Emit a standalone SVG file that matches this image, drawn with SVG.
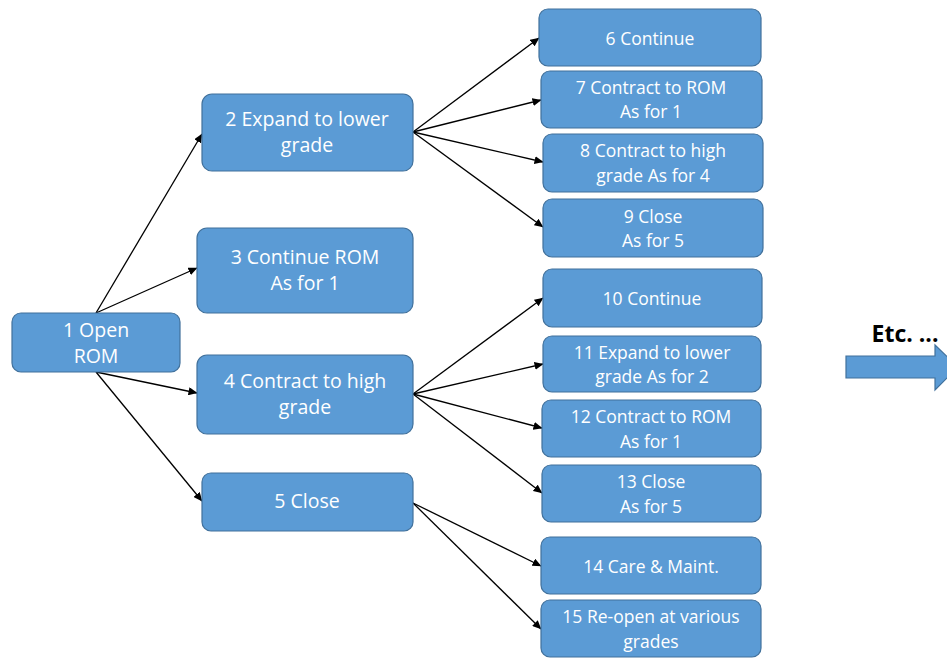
<svg xmlns="http://www.w3.org/2000/svg" width="947" height="659" viewBox="0 0 947 659">
<defs>
<marker id="ah" markerWidth="9" markerHeight="8" refX="8.5" refY="4" orient="auto" markerUnits="userSpaceOnUse">
<path d="M0,0 L9,4 L0,8 Z" fill="#000"/>
</marker>
<style>
.box{fill:#5B9BD5;stroke:#41719C;stroke-width:1.2}
.t{font-family:"Open Sans","Liberation Sans",sans-serif;fill:#fff;text-anchor:middle}
.l{font-size:19.5px}
.r{font-size:17.5px}
.c{stroke:#000;stroke-width:1.3;fill:none;marker-end:url(#ah)}
</style>
</defs>
<rect width="947" height="659" fill="#fff"/>
<g id="connectors">
<line class="c" x1="96" y1="313" x2="202" y2="134"/>
<line class="c" x1="96" y1="313" x2="197" y2="268"/>
<line class="c" x1="96" y1="372" x2="197" y2="393"/>
<line class="c" x1="96" y1="372" x2="202" y2="501"/>
<line class="c" x1="413" y1="132" x2="539" y2="38"/>
<line class="c" x1="413" y1="132" x2="541" y2="100"/>
<line class="c" x1="413" y1="132" x2="543" y2="162"/>
<line class="c" x1="413" y1="132" x2="543" y2="227"/>
<line class="c" x1="413" y1="394" x2="543" y2="298"/>
<line class="c" x1="413" y1="394" x2="543" y2="364"/>
<line class="c" x1="413" y1="394" x2="542" y2="428"/>
<line class="c" x1="413" y1="394" x2="542" y2="493"/>
<line class="c" x1="413" y1="503" x2="541" y2="566"/>
<line class="c" x1="413" y1="503" x2="541" y2="629"/>
</g>
<g id="n1"><rect class="box" x="12" y="313" width="168" height="59" rx="9"/>
<text class="t l" x="96" y="337">1 Open</text><text class="t l" x="96" y="363">ROM</text></g>
<g id="n2"><rect class="box" x="202" y="94" width="211" height="77" rx="10"/>
<text class="t l" x="307" y="126">2 Expand to lower</text><text class="t l" x="307" y="152">grade</text></g>
<g id="n3"><rect class="box" x="197" y="228" width="216" height="85" rx="10"/>
<text class="t l" x="305" y="264">3 Continue ROM</text><text class="t l" x="305" y="290">As for 1</text></g>
<g id="n4"><rect class="box" x="197" y="355" width="216" height="79" rx="10"/>
<text class="t l" x="305" y="388">4 Contract to high</text><text class="t l" x="305" y="414">grade</text></g>
<g id="n5"><rect class="box" x="202" y="473" width="211" height="58" rx="9"/>
<text class="t l" x="307" y="508">5 Close</text></g>
<g id="n6"><rect class="box" x="539" y="9" width="222" height="57" rx="9"/>
<text class="t r" x="650" y="45">6 Continue</text></g>
<g id="n7"><rect class="box" x="541" y="71" width="221" height="57" rx="9"/>
<text class="t r" x="651" y="94">7 Contract to ROM</text><text class="t r" x="651" y="118">As for 1</text></g>
<g id="n8"><rect class="box" x="543" y="134" width="220" height="58" rx="9"/>
<text class="t r" x="653" y="157">8 Contract to high</text><text class="t r" x="653" y="182">grade As for 4</text></g>
<g id="n9"><rect class="box" x="543" y="199" width="220" height="58" rx="9"/>
<text class="t r" x="653" y="223">9 Close</text><text class="t r" x="653" y="247">As for 5</text></g>
<g id="n10"><rect class="box" x="543" y="269" width="219" height="58" rx="9"/>
<text class="t r" x="652" y="305">10 Continue</text></g>
<g id="n11"><rect class="box" x="543" y="336" width="218" height="56" rx="9"/>
<text class="t r" x="652" y="359">11 Expand to lower</text><text class="t r" x="652" y="383">grade As for 2</text></g>
<g id="n12"><rect class="box" x="542" y="400" width="219" height="57" rx="9"/>
<text class="t r" x="651" y="423">12 Contract to ROM</text><text class="t r" x="651" y="448">As for 1</text></g>
<g id="n13"><rect class="box" x="542" y="465" width="219" height="57" rx="9"/>
<text class="t r" x="651" y="488">13 Close</text><text class="t r" x="651" y="513">As for 5</text></g>
<g id="n14"><rect class="box" x="541" y="537" width="220" height="57" rx="9"/>
<text class="t r" x="651" y="573">14 Care &amp; Maint.</text></g>
<g id="n15"><rect class="box" x="541" y="600" width="220" height="57" rx="9"/>
<text class="t r" x="651" y="623">15 Re-open at various</text><text class="t r" x="651" y="648">grades</text></g>
<g id="etc">
<polygon points="846,356 935,356 935,345 958,367 935,390 935,378 846,378" fill="#5B9BD5" stroke="#41719C" stroke-width="1.2"/>
<text x="905" y="342" font-family="'Open Sans','Liberation Sans',sans-serif" font-size="23" font-weight="bold" fill="#000" text-anchor="middle">Etc. ...</text>
</g>
</svg>
